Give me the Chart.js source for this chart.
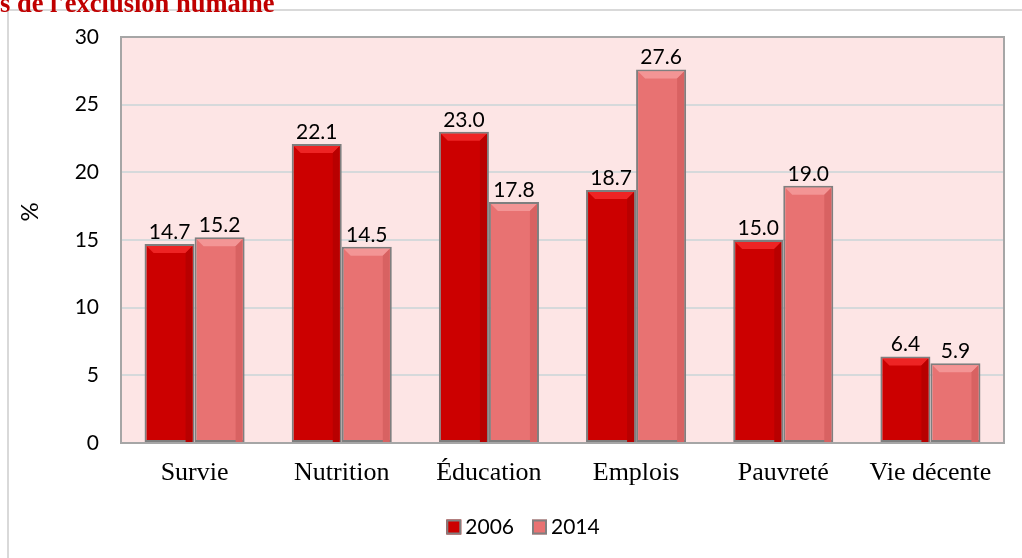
<!DOCTYPE html>
<html>
<head>
<meta charset="utf-8">
<script src="https://cdn.jsdelivr.net/npm/chart.js@4"></script>
<style>
  body { margin: 0; background: #fff; overflow: hidden; }
  #wrap { position: relative; width: 1022px; height: 558px; }
  #title {
    position: absolute; left: 0; top: -12px;
    font: bold 26.5px "Liberation Serif", serif; color: #c00000;
    white-space: nowrap;
  }
  canvas { position: absolute; left: 0; top: 0; }
</style>
</head>
<body>
<div id="wrap">
  <canvas id="chart" width="1022" height="558"></canvas>
  <div id="title">s de l'exclusion humaine</div>
</div>
<script>
// data
const categories = ['Survie', 'Nutrition', 'Éducation', 'Emplois', 'Pauvreté', 'Vie décente'];
const values2006 = [14.7, 22.1, 23.0, 18.7, 15.0, 6.4];
const values2014 = [15.2, 14.5, 17.8, 27.6, 19.0, 5.9];
const seriesNames = ['2006', '2014'];
const seriesColors = ['#cc0000', '#e87272'];
const yAxisTitle = '%';

const sansFont = 'Lato, "Open Sans", sans-serif';

// light pink plot area, frame around the whole chart
const backgroundPlugin = {
    id: 'background',
    beforeDraw(chart) {
        const c = chart.ctx;
        const a = chart.chartArea;
        c.save();
        c.strokeStyle = '#d9d9d9';
        c.lineWidth = 2;
        c.strokeRect(8, 10, 1030, 560);
        c.fillStyle = '#fde5e5';
        c.fillRect(a.left, a.top, a.right - a.left, a.bottom - a.top);
        c.restore();
    },
    afterDraw(chart) {
        const a = chart.chartArea;
        const c = chart.ctx;
        c.save();
        c.strokeStyle = '#a6a6a6';
        c.lineWidth = 2;
        c.strokeRect(a.left, a.top, a.right - a.left, a.bottom - a.top);
        // rotated axis title
        c.translate(30, 212);
        c.rotate(-Math.PI / 2);
        c.font = '24px ' + sansFont;
        c.fillStyle = '#000';
        c.textAlign = 'center';
        c.textBaseline = 'middle';
        c.fillText(yAxisTitle, 0, 0);
        c.restore();
    }
};

// bevel look on the bars
const bevelPlugin = {
    id: 'bevel',
    afterDatasetsDraw(chart) {
        const c = chart.ctx;
        const shades = [
            { light: '#ee2424', dark: '#b80000' },
            { light: '#f39595', dark: '#d86262' }
        ];
        chart.data.datasets.forEach((ds, i) => {
            const meta = chart.getDatasetMeta(i);
            meta.data.forEach(bar => {
                const l = bar.x - bar.width / 2 + 2;
                const r = bar.x + bar.width / 2 - 2;
                const t = bar.y + 2;
                const b = bar.base;
                const bv = Math.min(7, (b - t) / 2);
                c.save();
                c.fillStyle = shades[i].light;
                c.beginPath();
                c.moveTo(l, t); c.lineTo(r, t); c.lineTo(r - bv, t + bv); c.lineTo(l + bv, t + bv);
                c.closePath(); c.fill();
                c.fillStyle = shades[i].dark;
                c.beginPath();
                c.moveTo(r, t); c.lineTo(r, b); c.lineTo(r - bv, b); c.lineTo(r - bv, t + bv);
                c.closePath(); c.fill();
                c.restore();
            });
        });
    }
};

// value labels above each bar
const valueLabelPlugin = {
    id: 'valueLabels',
    afterDatasetsDraw(chart) {
        const c = chart.ctx;
        c.save();
        c.font = '21px ' + sansFont;
        c.fillStyle = '#000';
        c.textAlign = 'center';
        c.textBaseline = 'alphabetic';
        chart.data.datasets.forEach((ds, i) => {
            chart.getDatasetMeta(i).data.forEach((bar, j) => {
                c.fillText(ds.data[j].toFixed(1), bar.x, bar.y - 5);
            });
        });
        c.restore();
    }
};

// legend drawn below the axis labels
const legendPlugin = {
    id: 'bottomLegend',
    afterDraw(chart) {
        const c = chart.ctx;
        c.save();
        c.font = '21px ' + sansFont;
        c.textBaseline = 'middle';
        const box = 15, gap = 4, itemGap = 18;
        const items = chart.data.datasets.map(ds => ({ label: ds.label, color: ds.backgroundColor }));
        let total = 0;
        items.forEach((it, i) => {
            it.w = box + gap + c.measureText(it.label).width;
            total += it.w + (i ? itemGap : 0);
        });
        let x = 523 - total / 2;
        const y = 527;
        items.forEach(it => {
            c.fillStyle = it.color;
            c.fillRect(x, y - box / 2, box, box);
            c.strokeStyle = '#808080';
            c.lineWidth = 2;
            c.strokeRect(x + 1, y - box / 2 + 1, box - 2, box - 2);
            c.fillStyle = '#000';
            c.textAlign = 'left';
            c.fillText(it.label, x + box + gap, y);
            x += it.w + itemGap;
        });
        c.restore();
    }
};

new Chart(document.getElementById('chart'), {
    type: 'bar',
    data: {
        labels: categories,
        datasets: [
            {
                label: seriesNames[0],
                data: values2006,
                backgroundColor: seriesColors[0],
                borderColor: '#7f7f7f',
                borderWidth: 2,
                borderSkipped: false,
            },
            {
                label: seriesNames[1],
                data: values2014,
                backgroundColor: seriesColors[1],
                borderColor: '#7f7f7f',
                borderWidth: 2,
                borderSkipped: false,
            },
        ],
    },
    options: {
        responsive: false,
        animation: false,
        layout: { padding: { top: 37, right: 18, bottom: 54, left: 0 } },
        datasets: { bar: { categoryPercentage: 0.68, barPercentage: 1 } },
        scales: {
            x: {
                grid: { display: false, drawTicks: false },
                border: { display: false },
                ticks: {
                    padding: 15,
                    color: '#000',
                    font: { family: '"Liberation Serif", serif', size: 26 },
                },
                afterFit(scale) { scale.height = 61; },
            },
            y: {
                min: 0,
                max: 30,
                grid: { color: '#d6d9db', lineWidth: 2, drawTicks: false },
                border: { display: false },
                ticks: { stepSize: 5, padding: 22, color: '#000', font: { family: sansFont, size: 21 } },
                afterFit(scale) { scale.width = 121; },
            },
        },
        plugins: {
            legend: { display: false },
            tooltip: { enabled: false },
        },
    },
    plugins: [backgroundPlugin, bevelPlugin, valueLabelPlugin, legendPlugin],
});
</script>
</body>
</html>
